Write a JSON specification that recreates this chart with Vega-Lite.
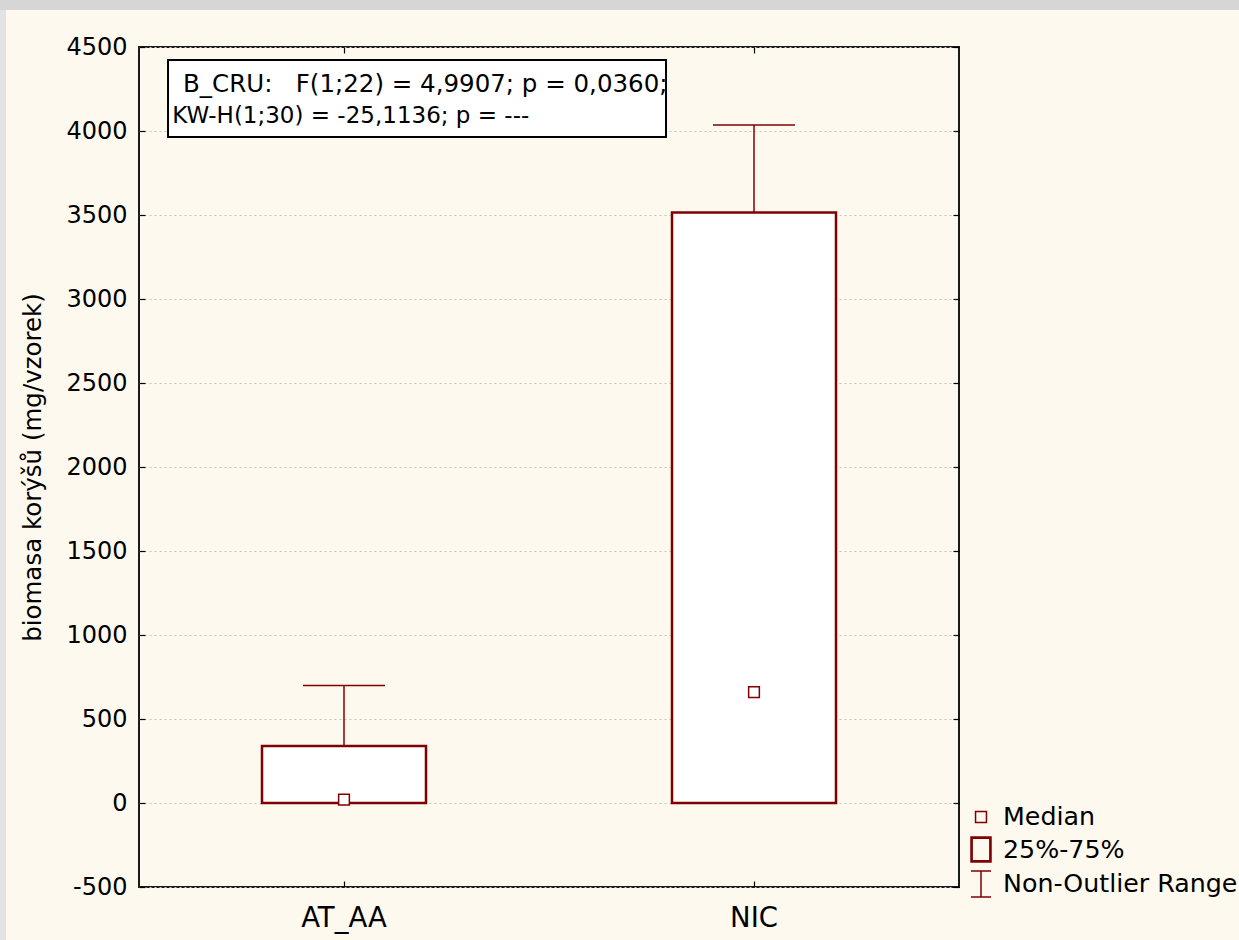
{
  "$schema": "https://vega.github.io/schema/vega-lite/v6.json",
  "width": 820,
  "height": 840,
  "autosize": {"type": "none"},
  "padding": {"left": 139, "top": 47, "right": 280, "bottom": 53},
  "background": "#fdf9ee",
  "config": {
    "font": "DejaVu Sans",
    "view": {"fill": "#ffffff", "stroke": "#1a1a1a", "strokeWidth": 2},
    "scale": {"bandPaddingInner": 0, "bandPaddingOuter": 0, "pointPadding": 0.5},
    "axis": {
      "labelFont": "DejaVu Sans",
      "titleFont": "DejaVu Sans",
      "labelColor": "#000000",
      "titleColor": "#000000",
      "tickColor": "#000000",
      "domain": false
    }
  },
  "datasets": {
    "boxes": [
      {"group": "AT_AA", "min": 0, "q1": 0, "median": 20, "q3": 340, "max": 700},
      {"group": "NIC", "min": 0, "q1": 0, "median": 660, "q3": 3515, "max": 4035}
    ],
    "legendItems": [
      {"item": "Median"},
      {"item": "25%-75%"},
      {"item": "Non-Outlier Range"}
    ]
  },
  "layer": [
    {
      "data": {"values": [{}]},
      "mark": {"type": "rect", "color": "#d6d6d6"},
      "encoding": {
        "x": {"datum": -0.2, "type": "quantitative", "scale": {"domain": [0, 1], "nice": false, "zero": false}, "axis": null},
        "x2": {"datum": 1.4},
        "y": {"datum": 4720, "type": "quantitative", "scale": {"domain": [-500, 4500], "nice": false, "zero": false}, "axis": null},
        "y2": {"datum": 4800}
      }
    },
    {
      "data": {"values": [{}]},
      "mark": {"type": "rect", "color": "#e3e3e3"},
      "encoding": {
        "x": {"datum": -0.2, "type": "quantitative", "scale": {"domain": [0, 1], "nice": false, "zero": false}, "axis": null},
        "x2": {"datum": -0.1622},
        "y": {"datum": -900, "type": "quantitative", "scale": {"domain": [-500, 4500], "nice": false, "zero": false}, "axis": null},
        "y2": {"datum": 4720}
      }
    },
    {
      "data": {"values": [{}]},
      "mark": {"type": "rect", "fill": "#ffffff", "stroke": "#000000", "strokeWidth": 2},
      "encoding": {
        "x": {"datum": 0.0354, "type": "quantitative", "scale": {"domain": [0, 1], "nice": false, "zero": false}, "axis": null},
        "x2": {"datum": 0.6427},
        "y": {"datum": 4422, "type": "quantitative", "scale": {"domain": [-500, 4500], "nice": false, "zero": false}, "axis": null},
        "y2": {"datum": 3964}
      }
    },
    {
      "data": {"values": [{}]},
      "mark": {"type": "text", "align": "left", "baseline": "alphabetic", "font": "DejaVu Sans", "fontSize": 24.5, "color": "#000000"},
      "encoding": {
        "x": {"datum": 0.0537, "type": "quantitative", "scale": {"domain": [0, 1], "nice": false, "zero": false}, "axis": null},
        "y": {"datum": 4232, "type": "quantitative", "scale": {"domain": [-500, 4500], "nice": false, "zero": false}, "axis": null},
        "text": {"value": "B_CRU:\u00a0\u00a0\u00a0F(1;22) = 4,9907; p = 0,0360;"}
      }
    },
    {
      "data": {"values": [{}]},
      "mark": {"type": "text", "align": "left", "baseline": "alphabetic", "font": "DejaVu Sans", "fontSize": 23, "color": "#000000"},
      "encoding": {
        "x": {"datum": 0.0405, "type": "quantitative", "scale": {"domain": [0, 1], "nice": false, "zero": false}, "axis": null},
        "y": {"datum": 4048, "type": "quantitative", "scale": {"domain": [-500, 4500], "nice": false, "zero": false}, "axis": null},
        "text": {"value": "KW-H(1;30) = -25,1136; p = ---"}
      }
    },
    {
      "data": {"name": "boxes"},
      "mark": {"type": "rule", "color": "#800000", "strokeWidth": 1.5},
      "encoding": {
        "x": {
          "field": "group", "type": "nominal", "sort": null,
          "axis": {"orient": "bottom", "title": null, "labelAngle": 0, "labelFontSize": 27.5, "tickSize": -6, "tickWidth": 1.2, "labelPadding": 23, "grid": false}
        },
        "y": {
          "field": "q3", "type": "quantitative",
          "scale": {"domain": [-500, 4500], "nice": false, "zero": false},
          "axis": {
            "orient": "left",
            "values": [-500, 0, 500, 1000, 1500, 2000, 2500, 3000, 3500, 4000, 4500],
            "labelExpr": "'' + datum.value",
            "tickSize": -6, "tickWidth": 1.2, "labelPadding": 18, "labelFontSize": 24,
            "grid": true, "gridColor": "#c4c4c4", "gridDash": [2, 3], "gridWidth": 1,
            "title": "biomasa korýšů (mg/vzorek)", "titleFontSize": 24.5, "titleFontWeight": "normal", "titlePadding": 20
          }
        },
        "y2": {"field": "max"}
      }
    },
    {
      "data": {"name": "boxes"},
      "mark": {"type": "tick", "color": "#800000", "thickness": 1.5, "size": 82, "opacity": 1},
      "encoding": {
        "x": {"field": "group", "type": "nominal", "sort": null, "axis": null},
        "y": {"field": "max", "type": "quantitative", "scale": {"domain": [-500, 4500], "nice": false, "zero": false}, "axis": null}
      }
    },
    {
      "data": {"name": "boxes"},
      "mark": {"type": "tick", "color": "#800000", "thickness": 1.5, "size": 82, "opacity": 1},
      "encoding": {
        "x": {"field": "group", "type": "nominal", "sort": null, "axis": null},
        "y": {"field": "min", "type": "quantitative", "scale": {"domain": [-500, 4500], "nice": false, "zero": false}, "axis": null}
      }
    },
    {
      "data": {"name": "boxes"},
      "mark": {"type": "bar", "fill": "#ffffff", "stroke": "#800000", "strokeWidth": 2.5, "width": {"band": 0.4}},
      "encoding": {
        "x": {"field": "group", "type": "nominal", "sort": null, "axis": null},
        "y": {"field": "q1", "type": "quantitative", "scale": {"domain": [-500, 4500], "nice": false, "zero": false}, "axis": null},
        "y2": {"field": "q3"}
      }
    },
    {
      "data": {"name": "boxes"},
      "mark": {"type": "point", "shape": "square", "size": 115, "filled": true, "fill": "#ffffff", "stroke": "#800000", "strokeWidth": 1.5, "opacity": 1},
      "encoding": {
        "x": {"field": "group", "type": "nominal", "sort": null, "axis": null},
        "y": {"field": "median", "type": "quantitative", "scale": {"domain": [-500, 4500], "nice": false, "zero": false}, "axis": null}
      }
    },
    {
      "data": {"name": "boxes"},
      "mark": {"type": "point", "opacity": 0},
      "encoding": {
        "x": {"field": "group", "type": "nominal", "sort": null, "axis": {"orient": "top", "labels": false, "title": null, "tickSize": -6, "tickWidth": 1.2, "grid": false}},
        "y": {
          "field": "q3", "type": "quantitative",
          "scale": {"domain": [-500, 4500], "nice": false, "zero": false},
          "axis": {"orient": "right", "labels": false, "title": null, "grid": false, "tickSize": -6, "tickWidth": 1.2, "values": [-500, 0, 500, 1000, 1500, 2000, 2500, 3000, 3500, 4000, 4500]}
        }
      }
    },
    {
      "data": {"name": "legendItems"},
      "transform": [{"filter": "false"}],
      "mark": {"type": "point", "filled": false, "color": "#800000", "strokeWidth": 1.5, "opacity": 1},
      "encoding": {
        "shape": {
          "field": "item", "type": "nominal",
          "scale": {
            "domain": ["Median", "25%-75%", "Non-Outlier Range"],
            "range": [
              "M-0.42,-0.42H0.42V0.42H-0.42Z",
              "M-0.77,-0.96H0.77V0.96H-0.77ZM-0.68,-0.87H0.68V0.87H-0.68Z",
              "M-0.77,-1H0.77M0,-1V1M-0.77,1H0.77"
            ]
          },
          "legend": {
            "orient": "none", "legendX": 828, "legendY": 756,
            "title": null, "padding": 0,
            "symbolSize": 676, "symbolStrokeColor": "#800000", "symbolFillColor": "transparent", "symbolStrokeWidth": 1.5, "symbolOpacity": 1,
            "labelFont": "DejaVu Sans", "labelFontSize": 25.3, "labelColor": "#000000", "labelOffset": 8, "labelLimit": 400, "rowPadding": 2.5
          }
        }
      }
    }
  ],
  "resolve": {"scale": {"x": "independent"}, "axis": {"x": "independent", "y": "independent"}}
}
